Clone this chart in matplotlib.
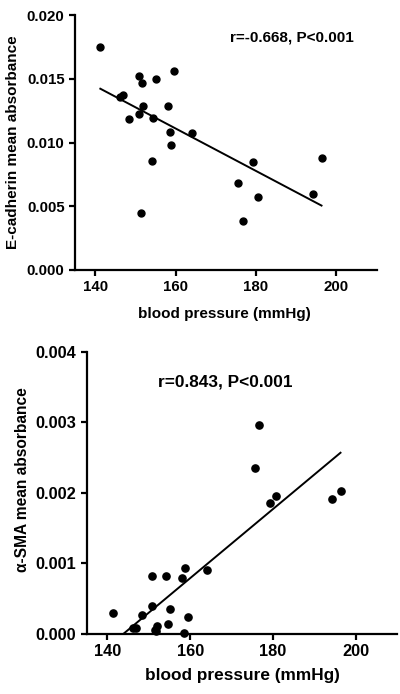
import matplotlib
matplotlib.use("Agg")
import matplotlib.pyplot as plt
import numpy as np

plt.rcParams['font.family'] = ['Liberation Sans', 'DejaVu Sans']
plt.rcParams['font.weight'] = 'bold'

# blood pressure (mmHg), shared by both panels
bp = [141.3, 146.2, 146.9, 148.4, 150.8, 150.8, 151.5, 151.7, 152.0, 154.1, 154.5, 155.1,
      158.1, 158.5, 158.8, 159.5, 164.1, 175.6, 176.7, 179.3, 180.6, 194.2, 196.3]

# E-cadherin mean absorbance
ecad = [0.01754, 0.01361, 0.01377, 0.01183, 0.01524, 0.01228, 0.00450, 0.01471, 0.01288,
        0.00856, 0.01191, 0.01497, 0.01288, 0.01086, 0.00984, 0.01565, 0.01073, 0.00681,
        0.00385, 0.00851, 0.00576, 0.00597, 0.00877]

# alpha-SMA mean absorbance
sma = [0.000297, 0.000090, 0.000090, 0.000269, 0.000825, 0.000396, 0.000052, 0.000040,
       0.000108, 0.000825, 0.000137, 0.000358, 0.000788, 0.000014, 0.000934, 0.000236,
       0.000906, 0.00236, 0.00297, 0.00186, 0.00195, 0.00192, 0.00203]

ecad_text = "r=-0.668, P<0.001"
sma_text = "r=0.843, P<0.001"


def style_axes(ax, size):
    for s in ['top', 'right']:
        ax.spines[s].set_visible(False)
    for s in ['left', 'bottom']:
        ax.spines[s].set_linewidth(1.6)
    ax.tick_params(width=1.6, length=4, labelsize=size, direction='out')
    for lab in ax.get_xticklabels() + ax.get_yticklabels():
        lab.set_fontweight('bold')


fig = plt.figure(figsize=(4.0, 6.94), dpi=100)

# top panel
ax1 = fig.add_axes([0.1875, 0.611, 0.754, 0.367])
ax1.scatter(bp, ecad, s=25, color='black', zorder=3, clip_on=False)
k, b = np.polyfit(bp, ecad, 1)
xs = np.array([min(bp), max(bp)])
ax1.plot(xs, k * xs + b, color='black', lw=1.4)
ax1.set_xlim(135, 210)
ax1.set_ylim(0, 0.020)
ax1.set_xticks([140, 160, 180, 200])
ax1.set_yticks([0, 0.005, 0.010, 0.015, 0.020])
ax1.set_yticklabels(['0.000', '0.005', '0.010', '0.015', '0.020'])
style_axes(ax1, 10.8)
ax1.set_xlabel('blood pressure (mmHg)', fontsize=11, fontweight='bold')
ax1.set_ylabel('E-cadherin mean absorbance', fontsize=11, fontweight='bold')
ax1.xaxis.set_label_coords(0.494, -0.145)
ax1.yaxis.set_label_coords(-0.182, 0.5)
ax1.text(0.719, 0.912, ecad_text, transform=ax1.transAxes, ha='center', va='center',
         fontsize=11, fontweight='bold')

# bottom panel
ax2 = fig.add_axes([0.217, 0.0865, 0.776, 0.4065])
ax2.scatter(bp, sma, s=27, color='black', zorder=3, clip_on=False)
k2, b2 = np.polyfit(bp, sma, 1)
ax2.plot(xs, k2 * xs + b2, color='black', lw=1.4)
ax2.set_xlim(135, 210)
ax2.set_ylim(0, 0.004)
ax2.set_xticks([140, 160, 180, 200])
ax2.set_yticks([0, 0.001, 0.002, 0.003, 0.004])
ax2.set_yticklabels(['0.000', '0.001', '0.002', '0.003', '0.004'])
style_axes(ax2, 11.8)
ax2.set_xlabel('blood pressure (mmHg)', fontsize=12.4, fontweight='bold')
ax2.set_ylabel('α-SMA mean absorbance', fontsize=11.2, fontweight='bold')
ax2.xaxis.set_label_coords(0.5, -0.121)
ax2.yaxis.set_label_coords(-0.182, 0.546)
ax2.text(0.447, 0.894, sma_text, transform=ax2.transAxes, ha='center', va='center',
         fontsize=12.4, fontweight='bold')

fig.savefig('out.png', dpi=100)
